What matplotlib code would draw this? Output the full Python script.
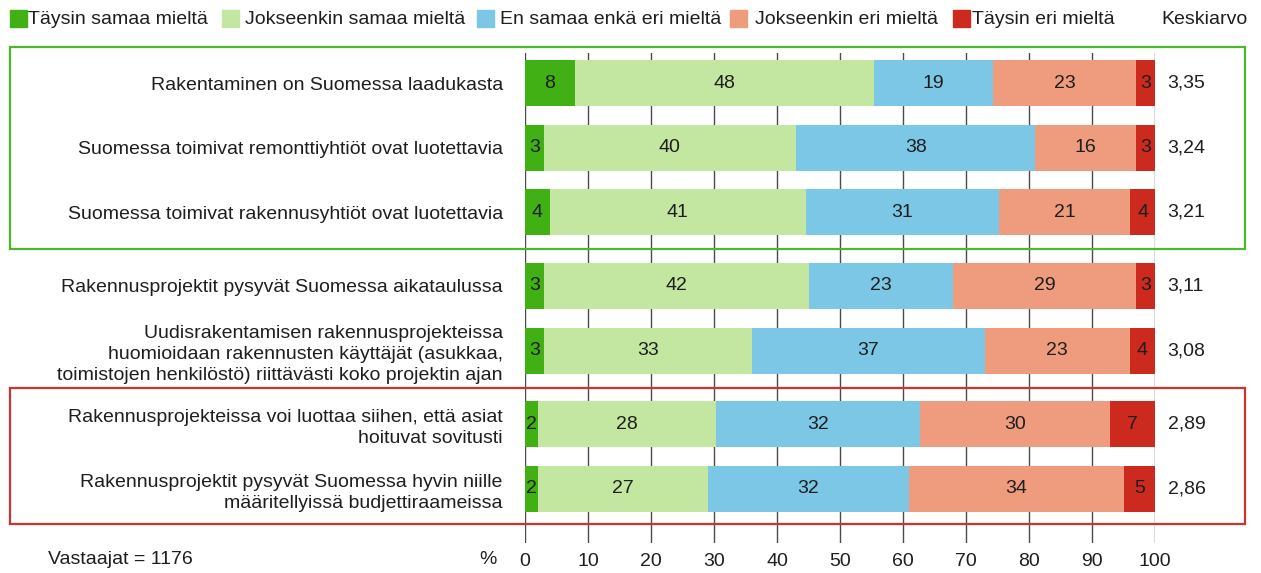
import matplotlib.pyplot as plt
from matplotlib.patches import Rectangle

# väittämät (ylhäältä alas)
statements = [
    "Rakentaminen on Suomessa laadukasta",
    "Suomessa toimivat remonttiyhtiöt ovat luotettavia",
    "Suomessa toimivat rakennusyhtiöt ovat luotettavia",
    "Rakennusprojektit pysyvät Suomessa aikataulussa",
    "Uudisrakentamisen rakennusprojekteissa\nhuomioidaan rakennusten käyttäjät (asukkaa,\ntoimistojen henkilöstö) riittävästi koko projektin ajan",
    "Rakennusprojekteissa voi luottaa siihen, että asiat\nhoituvat sovitusti",
    "Rakennusprojektit pysyvät Suomessa hyvin niille\nmääritellyissä budjettiraameissa",
]

categories = ["Täysin samaa mieltä", "Jokseenkin samaa mieltä", "En samaa enkä eri mieltä",
              "Jokseenkin eri mieltä", "Täysin eri mieltä"]

taysin_samaa = [8, 3, 4, 3, 3, 2, 2]
jokseenkin_samaa = [48, 40, 41, 42, 33, 28, 27]
ei_samaa_ei_eri = [19, 38, 31, 23, 37, 32, 32]
jokseenkin_eri = [23, 16, 21, 29, 23, 30, 34]
taysin_eri = [3, 3, 4, 3, 4, 7, 5]

averages = ["3,35", "3,24", "3,21", "3,11", "3,08", "2,89", "2,86"]
ticks = [0, 10, 20, 30, 40, 50, 60, 70, 80, 90, 100]

colors = ["#40b014", "#c3e7a1", "#7dc7e6", "#ef9c7e", "#cc2a1e"]

series = [taysin_samaa, jokseenkin_samaa, ei_samaa_ei_eri, jokseenkin_eri, taysin_eri]

# pyöristetyt prosentit -> palkit skaalataan summaan 100
totals = [sum(r) for r in zip(*series)]

# rivien paikat: ryhmien väliin pieni lisärako
group = [0, 0, 0, 1, 1, 2, 2]
ypos = [i + 0.137 * g for i, g in enumerate(group)]

W, H = 1261, 573
fig = plt.figure(figsize=(W / 100, H / 100), dpi=100)
ax = fig.add_axes([525 / W, 1 - 543 / H, (1155 - 525) / W, (543 - 53) / H])

font = "Liberation Sans"
fs = 14
txt = "#1e1e1e"

left = [0] * len(statements)
for vals, col in zip(series, colors):
    widths = [v / t * 100 for v, t in zip(vals, totals)]
    ax.barh(ypos, widths, left=left, height=0.71, color=col, zorder=2)
    for y, v, w, l in zip(ypos, vals, widths, left):
        ax.text(l + w / 2, y, str(v), ha="center", va="center", fontsize=fs,
                family=font, color=txt, zorder=3)
    left = [a + b for a, b in zip(left, widths)]

for y, a in zip(ypos, averages):
    ax.text(102, y, a, ha="left", va="center", fontsize=fs, family=font,
            color=txt, clip_on=False)

ax.set_xlim(0, 100)
ax.set_ylim(7.11, -0.464)
ax.set_xticks(ticks)
ax.set_xticklabels([str(t) for t in ticks], family=font, fontsize=fs, color=txt)
ax.tick_params(axis="x", length=0, pad=7)
ax.set_yticks(ypos)
ax.set_yticklabels(statements, family=font, fontsize=fs, color=txt, linespacing=1.3)
ax.tick_params(axis="y", length=0, pad=16)
for s in ax.spines.values():
    s.set_visible(False)
for t in ticks:
    ax.axvline(t, color="#4a4a4a", lw=1, zorder=1)

# selite
leg_y = 1 - 19 / H
sq_x = [10, 222, 477, 730, 953]
lab_x = [28, 245, 500, 755, 972]
for x, tx, col, lab in zip(sq_x, lab_x, colors, categories):
    fig.add_artist(Rectangle((x / W, 1 - 27 / H), 17 / W, 17 / H, color=col,
                             transform=fig.transFigure))
    fig.text(tx / W, leg_y, lab, ha="left", va="center", fontsize=fs,
             family=font, color=txt)
fig.text(1161 / W, leg_y, "Keskiarvo", ha="left", va="center", fontsize=fs,
         family=font, color=txt)

# kehykset
fig.add_artist(Rectangle((10 / W, 1 - 249 / H), 1235 / W, 202 / H, fill=False,
                         edgecolor="#4cb82a", lw=1.6, transform=fig.transFigure))
fig.add_artist(Rectangle((10 / W, 1 - 524 / H), 1235 / W, 136 / H, fill=False,
                         edgecolor="#cc3333", lw=1.6, transform=fig.transFigure))

fig.text(48 / W, 1 - 560 / H, "Vastaajat = 1176", ha="left", va="center",
         fontsize=fs, family=font, color=txt)
fig.text(497 / W, 1 - 560 / H, "%", ha="right", va="center",
         fontsize=fs, family=font, color=txt)

fig.savefig("out.png", dpi=100)
